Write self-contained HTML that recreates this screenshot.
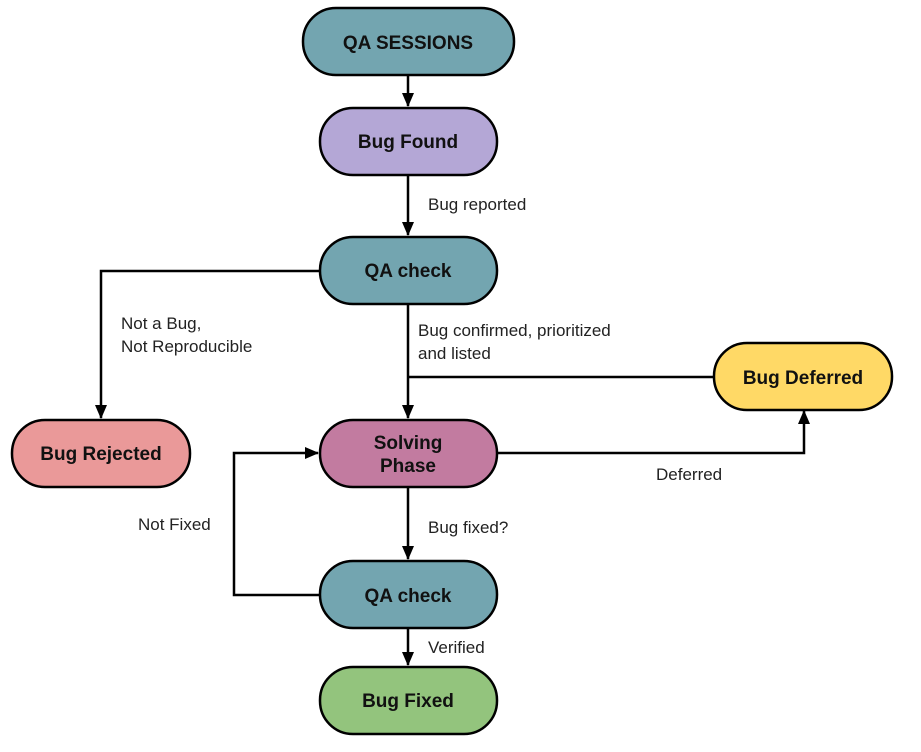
<!DOCTYPE html>
<html><head><meta charset="utf-8"><style>body{margin:0;background:#fff}</style></head><body>
<svg width="921" height="747" viewBox="0 0 921 747" xmlns="http://www.w3.org/2000/svg" font-family="Liberation Sans, sans-serif">
<defs><marker id="a" markerWidth="14" markerHeight="14" refX="13" refY="6" orient="auto" markerUnits="userSpaceOnUse"><path d="M0,0 L14,6 L0,12 z" fill="#000"/></marker></defs>
<g stroke="#000" stroke-width="2.5" fill="none">
<line x1="408" y1="75" x2="408" y2="106" marker-end="url(#a)"/>
<line x1="408" y1="175" x2="408" y2="235" marker-end="url(#a)"/>
<line x1="408" y1="304" x2="408" y2="418" marker-end="url(#a)"/>
<polyline points="320,271 101,271 101,418" marker-end="url(#a)"/>
<line x1="714" y1="377" x2="408" y2="377"/>
<polyline points="497,453 804,453 804,411" marker-end="url(#a)"/>
<line x1="408" y1="487" x2="408" y2="559" marker-end="url(#a)"/>
<polyline points="320,595 234,595 234,453 318,453" marker-end="url(#a)"/>
<line x1="408" y1="628" x2="408" y2="665" marker-end="url(#a)"/>
</g>
<g stroke="#000" stroke-width="2.5">
<rect x="303" y="8" width="211" height="67" rx="33" fill="#73a5b0"/>
<rect x="320" y="108" width="177" height="67" rx="33" fill="#b4a7d6"/>
<rect x="320" y="237" width="177" height="67" rx="33" fill="#73a5b0"/>
<rect x="714" y="343" width="178" height="67" rx="33" fill="#ffd966"/>
<rect x="12" y="420" width="178" height="67" rx="33" fill="#ea9999"/>
<rect x="320" y="420" width="177" height="67" rx="33" fill="#c27ba0"/>
<rect x="320" y="561" width="177" height="67" rx="33" fill="#73a5b0"/>
<rect x="320" y="667" width="177" height="67" rx="33" fill="#93c47d"/>
</g>
<g font-weight="bold" font-size="19" text-anchor="middle" fill="#111">
<text x="408" y="49">QA SESSIONS</text>
<text x="408" y="148">Bug Found</text>
<text x="408" y="277">QA check</text>
<text x="803" y="384">Bug Deferred</text>
<text x="101" y="460">Bug Rejected</text>
<text x="408" y="449">Solving</text>
<text x="408" y="472">Phase</text>
<text x="408" y="602">QA check</text>
<text x="408" y="707">Bug Fixed</text>
</g>
<g font-size="17" fill="#222">
<text x="428" y="210">Bug reported</text>
<text x="121" y="329">Not a Bug,</text>
<text x="121" y="352">Not Reproducible</text>
<text x="418" y="336">Bug confirmed, prioritized</text>
<text x="418" y="359">and listed</text>
<text x="656" y="480">Deferred</text>
<text x="138" y="530">Not Fixed</text>
<text x="428" y="533">Bug fixed?</text>
<text x="428" y="653">Verified</text>
</g>
</svg>
</body></html>
